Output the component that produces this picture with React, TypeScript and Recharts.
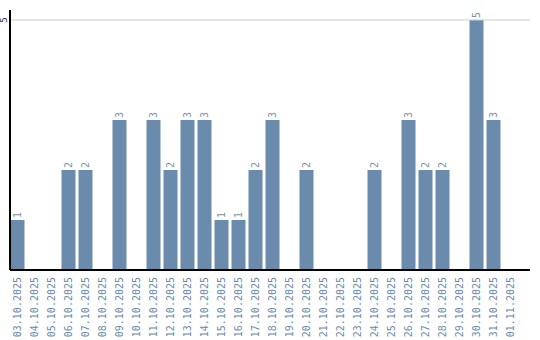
import React from 'react';
import { BarChart, Bar, XAxis, YAxis, ReferenceLine, LabelList } from 'recharts';

const days = [
  '03.10.2025', '04.10.2025', '05.10.2025', '06.10.2025', '07.10.2025',
  '08.10.2025', '09.10.2025', '10.10.2025', '11.10.2025', '12.10.2025',
  '13.10.2025', '14.10.2025', '15.10.2025', '16.10.2025', '17.10.2025',
  '18.10.2025', '19.10.2025', '20.10.2025', '21.10.2025', '22.10.2025',
  '23.10.2025', '24.10.2025', '25.10.2025', '26.10.2025', '27.10.2025',
  '28.10.2025', '29.10.2025', '30.10.2025', '31.10.2025', '01.11.2025',
];
const counts = [1, 0, 0, 2, 2, 0, 3, 0, 3, 2, 3, 3, 1, 1, 2, 3, 0, 2, 0, 0, 0, 2, 0, 3, 2, 2, 0, 5, 3, 0];
const yTicks = [5];

const data = days.map((day, i) => ({ day, count: counts[i] }));

const BAR = '#6a8bab';
const MONO = '"DejaVu Sans Mono", monospace';

function DayTick({ x, y, payload }: any) {
  const ty = 277;
  return (
    <text
      x={x}
      y={ty}
      transform={`rotate(-90 ${x} ${ty})`}
      textAnchor="end"
      dominantBaseline="central"
      fill={BAR}
      fontSize={10}
      fontFamily={MONO}
    >
      {payload.value}
    </text>
  );
}

function CountTick({ y, payload }: any) {
  return (
    <text
      x={4}
      y={y}
      transform={`rotate(-90 4 ${y})`}
      textAnchor="middle"
      dominantBaseline="central"
      fill="#222"
      fontSize={9}
      fontFamily={MONO}
    >
      {payload.value}
    </text>
  );
}

function ValueLabel({ x, y, width, value }: any) {
  if (!value) return null;
  const cx = x + width / 2;
  const ty = y - 2;
  return (
    <text
      x={cx}
      y={ty}
      transform={`rotate(-90 ${cx} ${ty})`}
      textAnchor="start"
      dominantBaseline="central"
      fill="#7d93ab"
      fontSize={10}
      fontFamily={MONO}
    >
      {value}
    </text>
  );
}

export default function App() {
  return (
    <div style={{ position: 'absolute', left: 0, top: 0 }}>
      <BarChart
        width={540}
        height={340}
        data={data}
        margin={{ top: 10, right: 10, bottom: 0, left: 0 }}
        barSize={14}
      >
        <XAxis
          dataKey="day"
          interval={0}
          height={70}
          tickLine={false}
          axisLine={{ stroke: '#000', strokeWidth: 2 }}
          padding={{ left: -1.5, right: 11.5 }}
          tick={<DayTick />}
        />
        <YAxis
          width={10}
          domain={[0, 5.2]}
          ticks={yTicks}
          tickLine={false}
          axisLine={{ stroke: '#000', strokeWidth: 2 }}
          tick={<CountTick />}
        />
        <ReferenceLine y={5} stroke="#cccccc" />
        <Bar dataKey="count" fill={BAR} isAnimationActive={false}>
          <LabelList dataKey="count" content={<ValueLabel />} />
        </Bar>
      </BarChart>
    </div>
  );
}
